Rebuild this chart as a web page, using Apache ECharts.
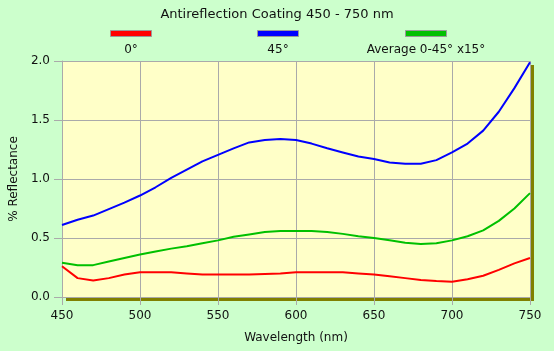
<!DOCTYPE html>
<html lang="en">
<head>
    <meta charset="UTF-8">
    <title>Antireflection Coating</title>
    <style>
        html, body { margin: 0; padding: 0; background: #ccffcc; }
        #main { width: 554px; height: 351px; }
    </style>
</head>
<body>
<div id="main"></div>
<script src="https://cdn.jsdelivr.net/npm/echarts@6/dist/echarts.min.js"></script>
<script>
    // wavelength (nm)
    var wavelengths = [450, 460, 470, 480, 490, 500, 510, 520, 530, 540, 550,
        560, 570, 580, 590, 600, 610, 620, 630, 640, 650,
        660, 670, 680, 690, 700, 710, 720, 730, 740, 750];
    // % reflectance at 0 deg
    var r0 = [0.26, 0.16, 0.14, 0.16, 0.19, 0.21, 0.21, 0.21, 0.20, 0.19, 0.19,
        0.19, 0.19, 0.195, 0.20, 0.21, 0.21, 0.21, 0.21, 0.20, 0.19,
        0.175, 0.16, 0.145, 0.135, 0.13, 0.15, 0.18, 0.23, 0.285, 0.33];
    // % reflectance at 45 deg
    var r45 = [0.61, 0.655, 0.69, 0.745, 0.80, 0.86, 0.93, 1.01, 1.08, 1.15, 1.205,
        1.26, 1.31, 1.33, 1.34, 1.33, 1.30, 1.26, 1.225, 1.19, 1.17,
        1.14, 1.13, 1.13, 1.16, 1.225, 1.30, 1.41, 1.57, 1.77, 1.99];
    // average 0-45 deg, step 15 deg
    var rAvg = [0.29, 0.27, 0.27, 0.30, 0.33, 0.36, 0.385, 0.41, 0.43, 0.455, 0.48,
        0.51, 0.53, 0.55, 0.56, 0.56, 0.56, 0.55, 0.535, 0.515, 0.50,
        0.48, 0.46, 0.45, 0.455, 0.48, 0.515, 0.565, 0.645, 0.75, 0.88];

    var seriesNames = ['0°', '45°', 'Average 0-45° x15°'];
    var seriesColors = ['#ff0000', '#0000ff', '#00c000'];
    var seriesData = [r0, r45, rAvg];

    function pairs(ys) {
        var out = [];
        for (var i = 0; i < wavelengths.length; i++) {
            out.push([wavelengths[i], ys[i]]);
        }
        return out;
    }

    var font = 'DejaVu Sans';
    var legendX = [131, 278, 426];

    // legend: swatch above label
    var graphics = [];
    for (var i = 0; i < seriesNames.length; i++) {
        graphics.push({
            type: 'rect',
            shape: { x: legendX[i] - 20.5, y: 30.5, width: 41, height: 6 },
            style: { fill: seriesColors[i], stroke: '#999999', lineWidth: 1 }
        });
        graphics.push({
            type: 'text',
            x: legendX[i], y: 50,
            style: {
                text: seriesNames[i], fill: '#111', font: '12px ' + font,
                textAlign: 'center', textVerticalAlign: 'middle'
            }
        });
    }

    var series = [];
    for (var i = 0; i < seriesNames.length; i++) {
        series.push({
            name: seriesNames[i],
            type: 'line',
            data: pairs(seriesData[i]),
            showSymbol: false,
            lineStyle: { color: seriesColors[i], width: 2 },
            itemStyle: { color: seriesColors[i] },
            z: 3 - i
        });
    }

    var myChart = echarts.init(document.getElementById('main'));
    var option = {
        backgroundColor: '#ccffcc',
        animation: false,
        title: {
            text: 'Antireflection Coating 450 - 750 nm',
            left: 'center',
            top: 3,
            textStyle: { fontFamily: font, fontSize: 13, fontWeight: 'normal', color: '#111' }
        },
        graphic: graphics,
        grid: {
            left: 62, right: 24, top: 61, bottom: 54,
            show: true,
            backgroundColor: '#ffffc8',
            borderWidth: 0,
            shadowColor: '#808000',
            shadowBlur: 0,
            shadowOffsetX: 4,
            shadowOffsetY: 4
        },
        xAxis: {
            type: 'value',
            min: 450, max: 750, interval: 50,
            name: 'Wavelength (nm)',
            nameLocation: 'middle',
            nameGap: 35,
            nameTextStyle: { fontFamily: font, fontSize: 12, color: '#111' },
            axisLine: { lineStyle: { color: '#aaaaaa' } },
            axisTick: { length: 8, lineStyle: { color: '#aaaaaa' } },
            axisLabel: { fontFamily: font, fontSize: 12, color: '#111', margin: 13 },
            splitLine: { lineStyle: { color: '#aaaaaa' } }
        },
        yAxis: {
            type: 'value',
            min: 0, max: 2, interval: 0.5,
            name: '% Reflectance',
            nameLocation: 'middle',
            nameGap: 37,
            nameTextStyle: { fontFamily: font, fontSize: 12, color: '#111' },
            axisLine: { show: true, lineStyle: { color: '#aaaaaa' } },
            axisTick: { show: true, length: 8, lineStyle: { color: '#aaaaaa' } },
            axisLabel: {
                fontFamily: font, fontSize: 12, color: '#111', margin: 12,
                formatter: function (v) { return v.toFixed(1); }
            },
            splitLine: { lineStyle: { color: '#aaaaaa' } }
        },
        series: series
    };
    myChart.setOption(option);
</script>
</body>
</html>
